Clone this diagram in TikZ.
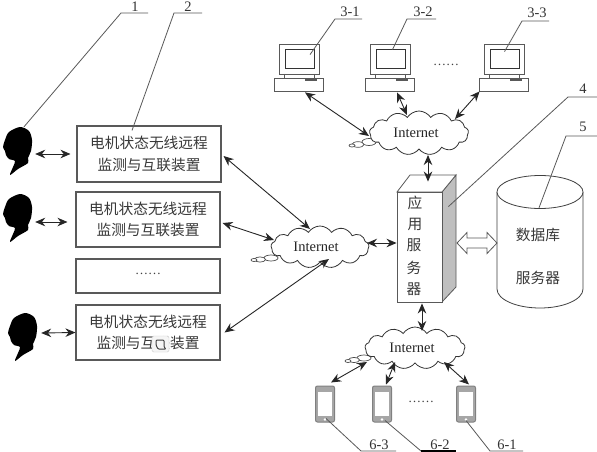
\documentclass[tikz,border=0pt]{standalone}
\usepackage{fontspec}
\setmainfont{Liberation Serif}
\newfontfamily\cjk{Noto Sans CJK SC}
\usetikzlibrary{arrows.meta,shapes.symbols,shapes.geometric,calc}
\definecolor{ink}{gray}{0.22}
\tikzset{
  x=1pt,y=-1pt,
  devbox/.style={draw=black!65,line width=1.1pt,fill=white,inner sep=0pt,align=center,text=ink,font=\cjk\fontsize{14.7}{21.5}\selectfont},
  net/.style={cloud,draw=black!80,line width=0.8pt,fill=white,cloud puffs=13,cloud puff arc=115,aspect=2.3,inner sep=0pt,text=black!85,font=\fontsize{14.5}{16}\selectfont},
  puff/.style={draw=black!70,line width=0.7pt,fill=white},
  link/.style={draw=black!85,line width=0.9pt,{Stealth[length=10pt,width=8.5pt]}-{Stealth[length=10pt,width=8.5pt]}},
  lead/.style={draw=black!65,line width=0.8pt},
  num/.style={inner sep=0pt,text=black!80,font=\fontsize{14.5}{16}\selectfont},
  ghost/.style={inner sep=0pt,draw=none},
  zh/.style={inner sep=0pt,text=ink,font=\cjk\fontsize{14.7}{18}\selectfont},
  dots/.style={inner sep=0pt,text=black!75,font=\fontsize{13}{14}\selectfont},
  dev/.style={draw=black!65,line width=0.8pt,fill=white}
}
\newcommand{\personfig}[3]{%
  \fill[black,shift={(#2,#3)}] plot[smooth cycle,tension=0.5] coordinates {(20,0)(29,4)(32,13)(31,24)(28,31)(28,36)(18,42)(10,48)(13,40)(15,34)(9,32)(6,28)(5,24)(3,20)(5,13)(9,5)};
  \node[ghost,minimum width=32pt,minimum height=48pt] (#1) at (#2+17,#3+24) {};
}
\newcommand{\pcfig}[3]{%
  \begin{scope}[shift={(#2,#3)}]
    \draw[dev] (0,0) rectangle (40,30);
    \draw[draw=black!80,line width=1pt] (6,6) rectangle (35,25);
    \draw[dev] (5,30) -- (5,34) (35,30) -- (35,34);
  \end{scope}
  \node[dev,minimum width=49pt,minimum height=13pt,inner sep=0pt,fill=none] (#1) at (#2+19.5,#3+40.5) {};
  \fill[black!65] (#2+26,#3+35.5) rectangle (#2+38,#3+37.5);
}
\newcommand{\phonefig}[3]{%
  \node[draw=black!50,line width=1pt,fill=black!35,rounded corners=2pt,minimum width=19pt,minimum height=36pt,inner sep=0pt] (#1) at (#2,#3) {};
  \fill[white] (#2-7,#3-12) rectangle (#2+7,#3+12);
  \fill[white] (#2,#3+15.5) circle (1.4);
}
\begin{document}
\begin{tikzpicture}
\useasboundingbox (0,0) rectangle (597,452);
\fill[white] (0,0) rectangle (597,452);

% people
\personfig{pa}{0}{127}
\personfig{pb}{0}{194}
\personfig{pc}{5}{313}

% device boxes
\node[devbox,minimum width=144pt,minimum height=56pt] (boxa) at (149,154) {电机状态无线远程\\监测与互联装置};
\node[devbox,minimum width=144pt,minimum height=55pt] (boxb) at (148,219.5) {电机状态无线远程\\监测与互联装置};
\node[devbox,minimum width=144pt,minimum height=34pt] (boxc) at (148,276) {};
\node[dots] (boxdots) at (148,274) {……};
\node[devbox,minimum width=144pt,minimum height=55pt] (boxd) at (148,332.5) {电机状态无线远程\\监测与互联装置};
\fill[black!4,draw=black!20,rounded corners=1.5pt] (152,336) rectangle (169,352);
\draw[black!75,line width=1pt,rounded corners=1pt] (156,340) -- (164,340) -- (164,347) -- (166,349) -- (158,349) -- (156,345) -- cycle;

% clouds
\draw[puff] (369,142) ellipse (7 and 3.5);
\draw[puff] (358,144.5) ellipse (6 and 2.8);
\draw[puff] (352,145.5) ellipse (3 and 1.5);
\node[net,minimum width=99pt,minimum height=44pt] (cloudt) at (419,133) {\hspace*{-6pt}Internet};

\draw[puff] (271,258) ellipse (7 and 3);
\draw[puff] (260,259.5) ellipse (5.5 and 2.6);
\draw[puff] (254,260) ellipse (3 and 1.5);
\node[net,minimum width=98pt,minimum height=42pt] (cloudm) at (320,247) {\hspace*{-8pt}Internet};

\draw[puff] (364,358) ellipse (7 and 3);
\draw[puff] (354,360) ellipse (5.5 and 2.6);
\draw[puff] (348,361) ellipse (3 and 1.5);
\node[net,minimum width=100pt,minimum height=42pt] (cloudb) at (415,348) {\hspace*{-6pt}Internet};

% application server
\fill[black!25,draw=black!65,line width=0.8pt] (442,192) -- (456,175) -- (456,287) -- (442,302) -- cycle;
\fill[white,draw=black!65,line width=0.8pt] (397,192) -- (410,175) -- (456,175) -- (442,192) -- cycle;
\node[draw=black!65,line width=0.9pt,fill=white,minimum width=45pt,minimum height=110pt,inner sep=0pt] (srv) at (419.5,247) {};
\node[zh] (sa) at (415,203) {应};
\node[zh] (sb) at (415,224) {用};
\node[zh] (sc) at (414,245) {服};
\node[zh] (sd) at (414,268) {务};
\node[zh] (se) at (414,289) {器};

% database
\node[ghost,minimum width=86pt,minimum height=133pt] (db) at (540,241.5) {};
\draw[dev,draw=black!75] (497,192) -- (497,289) arc[start angle=180,end angle=0,x radius=43,y radius=19] -- (583,192);
\draw[dev,draw=black!75] (540,192) ellipse (43 and 16.5);
\node[zh] (da) at (538,235) {数据库};
\node[zh] (db2) at (538,278) {服务器};

% open double arrow
\draw[draw=black!65,line width=0.8pt,fill=white] (457,243) -- (467,232.5) -- (467,238) -- (487,238) -- (487,232.5) -- (497,243) -- (487,253.5) -- (487,248) -- (467,248) -- (467,253.5) -- cycle;

% computers
\pcfig{pca}{279}{44}
\pcfig{pcb}{370}{44}
\pcfig{pcc}{484}{44}
\node[dots] (pcdots) at (446,65) {……};

% phones
\phonefig{pha}{325}{404}
\phonefig{phb}{382}{404}
\phonefig{phc}{466}{404}
\node[dots] (phdots) at (421,402) {……};

% connectors
\draw[link] ($(pa.east)+(2,3)$) -- ($(boxa.west)+(-6,0)$);
\draw[link] ($(pb.east)+(2,4)$) -- ($(boxb.west)+(-8,2.5)$);
\draw[link] ($(pc.east)+(3,-4)$) -- (boxd.west);
\draw[link] ($(boxa.east)+(2,2)$) -- ($(cloudm.center)+(-10,-18)$);
\draw[link] ($(boxb.east)+(2,3.5)$) -- ($(cloudm.center)+(-46,-7)$);
\draw[link] ($(boxd.east)+(4,0)$) -- ($(cloudm.center)+(9,12)$);
\draw[link] ($(cloudm.center)+(47,-4)$) -- ($(srv.west)+(0,-4)$);
\draw[link] ($(pca.south)+(6.5,1)$) -- ($(cloudt.center)+(-50,3)$);
\draw[link] ($(pcb.south)+(7.5,1)$) -- ($(cloudt.center)+(-12,-18)$);
\draw[link] ($(pcc.south west)+(1,0)$) -- ($(cloudt.center)+(36,-14)$);
\draw[link] ($(cloudt.center)+(9,22)$) -- ($(srv.north)+(8.5,-10)$);
\draw[link] ($(srv.south)+(2.5,1)$) -- ($(cloudb.center)+(7,-17)$);
\draw[link] ($(cloudb.center)+(-48,14)$) -- ($(pha.north)+(6,-3)$);
\draw[link] ($(cloudb.center)+(-20,14)$) -- ($(phb.north)+(4,-1)$);
\draw[link] ($(cloudb.center)+(29,14)$) -- ($(phc.north)+(3,-1)$);

% leaders and numbers
\node[num] (na) at (135,7) {1};
\draw[lead] ($(pa.north)+(7,0)$) -- (121,13) -- (148,13);
\node[num] (nb) at (188,7) {2};
\draw[lead] ($(boxa.north)+(-17,5)$) -- (174,13) -- (202,13);
\node[num] (nca) at (350,12) {3-1};
\draw[lead] ($(pca.north)+(11.5,-23)$) -- (335,19) -- (362,19);
\node[num] (ncb) at (423,12) {3-2};
\draw[lead] ($(pcb.north)+(3,-28)$) -- (407,19) -- (436,19);
\node[num] (ncc) at (537,13) {3-3};
\draw[lead] ($(pcc.north)+(1,-26)$) -- (522,21) -- (549,21);
\node[num] (nd) at (583,89) {4};
\draw[lead] ($(srv.north east)+(6,15)$) -- (568,97) -- (597,97);
\node[num] (ne) at (583,127) {5};
\draw[lead] ($(db.north)+(-1,33)$) -- (566,136) -- (597,136);
\node[num] (nfc) at (379,445) {6-3};
\draw[lead] ($(pha.south)+(1,-4)$) -- (361,451) -- (396,451);
\node[num] (nfb) at (440,445) {6-2};
\draw[lead] ($(phb.south)+(3,-2)$) -- (421,451);
\draw[draw=black,line width=1.2pt] (421,451) -- (456,451);
\node[num] (nfa) at (507,445) {6-1};
\draw[lead] ($(phc.south)+(0,-2)$) -- (490,451) -- (523,451);
\end{tikzpicture}
\end{document}
